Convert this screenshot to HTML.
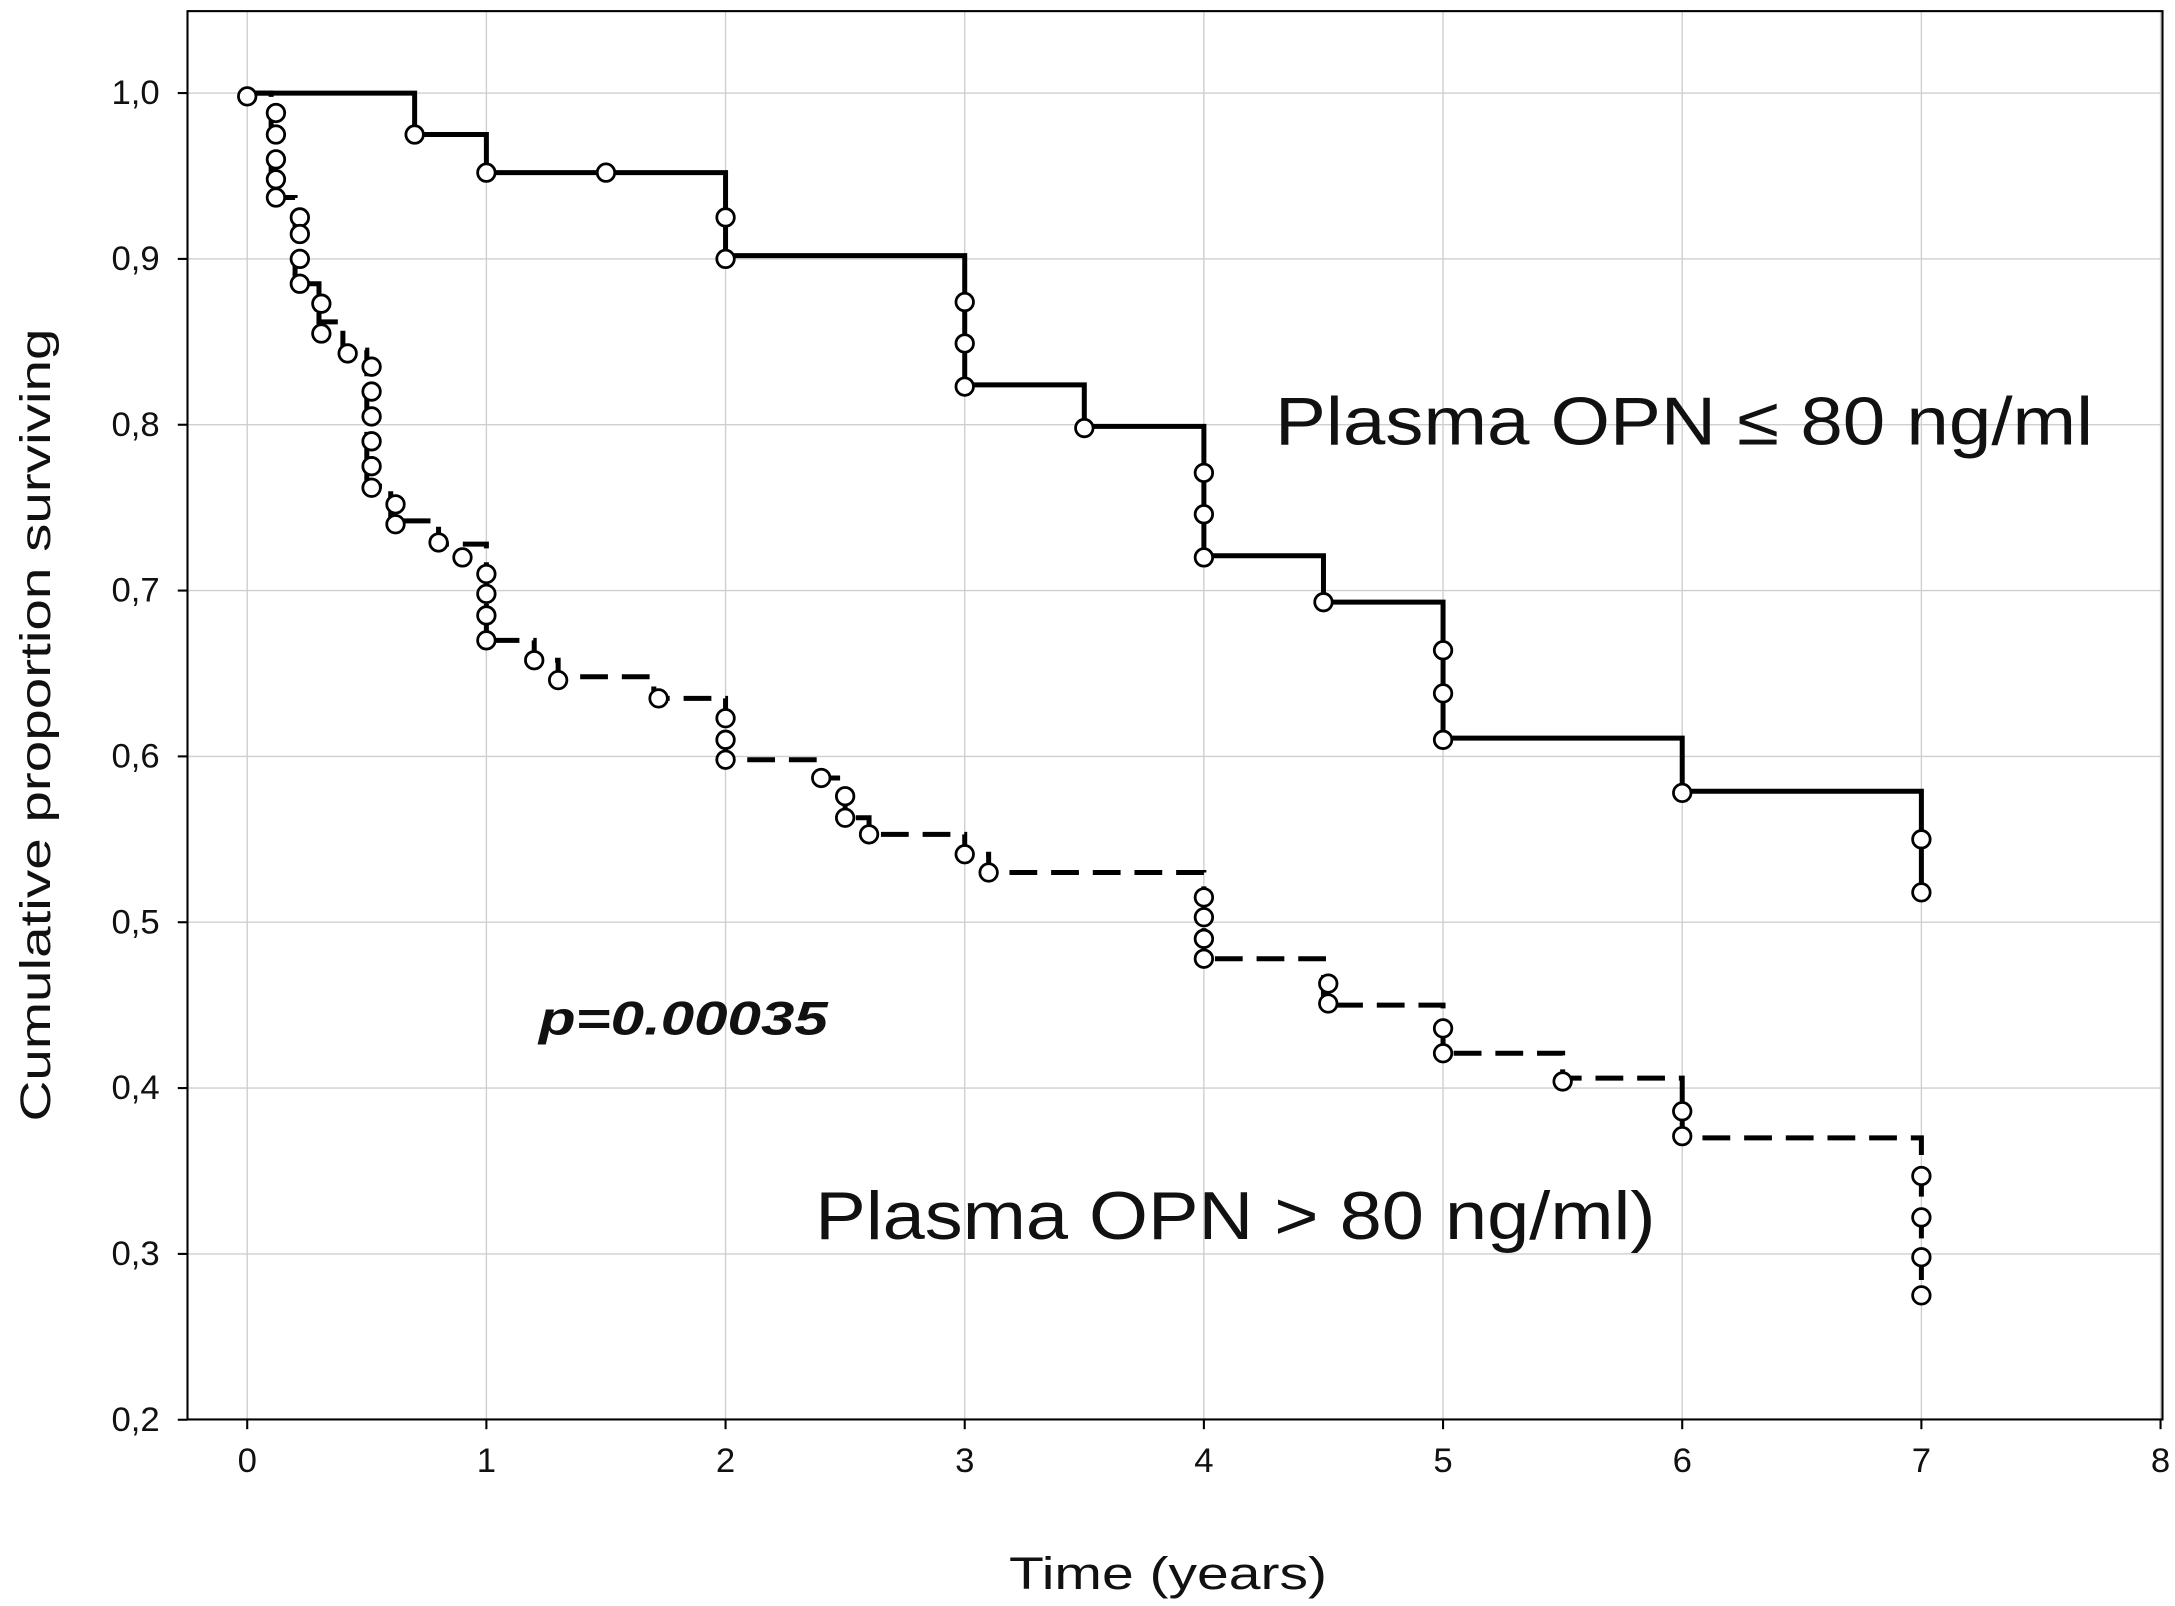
<!DOCTYPE html>
<html><head><meta charset="utf-8"><style>
html,body{margin:0;padding:0;background:#fff}
svg{display:block}
text{font-family:"Liberation Sans",Arial,sans-serif;fill:#111}
</style></head><body>
<svg id="chart" width="2175" height="1606" viewBox="0 0 1566 1156.3" xmlns="http://www.w3.org/2000/svg">
<g id="grid"></g>
<rect x="135" y="8" width="1422" height="1014" fill="none" stroke="#000" stroke-width="1.5"/>
<g id="ticks"></g>
<g id="series"></g>
<text transform="translate(36,522) rotate(-90)" text-anchor="middle" font-size="31" textLength="571" lengthAdjust="spacingAndGlyphs">Cumulative proportion surviving</text>
<text x="841" y="1144" text-anchor="middle" font-size="33" textLength="229" lengthAdjust="spacingAndGlyphs">Time (years)</text>
<text x="918" y="320" font-size="49" textLength="589" lengthAdjust="spacingAndGlyphs">Plasma OPN ≤ 80 ng/ml</text>
<text x="587" y="892" font-size="49" textLength="605" lengthAdjust="spacingAndGlyphs">Plasma OPN &gt; 80 ng/ml)</text>
<text x="388" y="745" font-size="34" font-weight="bold" font-style="italic" textLength="208" lengthAdjust="spacingAndGlyphs">p=0.00035</text>
</svg>
<script>
const xTicks=[0,1,2,3,4,5,6,7,8];
const yTicks=[0.2,0.3,0.4,0.5,0.6,0.7,0.8,0.9,1.0];
const yTickLabels=["0,2","0,3","0,4","0,5","0,6","0,7","0,8","0,9","1,0"];
const lowTimes=[0,0.7,1.0,2.0,3.0,3.5,4.0,4.5,5.0,6.0,7.0];
const lowValues=[1.0,0.975,0.952,0.902,0.824,0.799,0.721,0.693,0.611,0.579,0.518];
const lowCensT=[0.7,1.0,1.5,2,2,3,3,3,3.5,4,4,4,4.5,5,5,5,6,7,7];
const lowCensV=[0.975,0.952,0.952,0.925,0.90,0.874,0.849,0.823,0.798,0.771,0.746,0.72,0.693,0.664,0.638,0.61,0.578,0.55,0.518];
const highTimes=[0,0.1,0.2,0.3,0.4,0.5,0.6,0.8,1.0,1.2,1.3,1.7,2.0,2.4,2.5,2.6,3.0,3.1,4.0,4.5,5.0,5.5,6.0,7.0];
const highValues=[1.0,0.937,0.885,0.862,0.845,0.763,0.742,0.728,0.67,0.658,0.648,0.635,0.598,0.587,0.563,0.553,0.541,0.53,0.478,0.45,0.421,0.406,0.37,0.275];
const highCensT=[0,0.12,0.12,0.12,0.12,0.12,0.22,0.22,0.22,0.22,0.31,0.31,0.42,0.52,0.52,0.52,0.52,0.52,0.52,0.62,0.62,0.8,0.9,1,1,1,1,1.2,1.3,1.72,2,2,2,2.4,2.5,2.5,2.6,3,3.1,4,4,4,4,4.52,4.52,5,5,5.5,6,6,7,7,7,7];
const highCensV=[0.998,0.988,0.975,0.96,0.948,0.937,0.925,0.915,0.9,0.885,0.873,0.855,0.843,0.835,0.82,0.805,0.79,0.775,0.762,0.752,0.74,0.729,0.72,0.71,0.698,0.685,0.67,0.658,0.646,0.635,0.623,0.61,0.598,0.587,0.576,0.563,0.553,0.541,0.53,0.515,0.503,0.49,0.478,0.463,0.451,0.436,0.421,0.404,0.386,0.371,0.347,0.322,0.298,0.275];
const NS="http://www.w3.org/2000/svg";
const sx=t=>178+t*172.2;
const sy=v=>67+(1-v)*1194;
function mk(tag,attrs,parent){const e=document.createElementNS(NS,tag);for(const k in attrs)e.setAttribute(k,attrs[k]);parent.appendChild(e);return e;}
const grid=document.getElementById('grid'),ticks=document.getElementById('ticks'),series=document.getElementById('series');
xTicks.forEach(t=>{
  const g=mk('line',{x1:sx(t),x2:sx(t),y1:8,y2:1022,stroke:'#cfcfcf','stroke-width':1},grid);
  
  
  const tk=mk('line',{x1:sx(t),x2:sx(t),y1:1022,y2:1029,stroke:'#000','stroke-width':1.5},ticks);
  
  
  const lb=mk('text',{x:sx(t),y:1060,'text-anchor':'middle','font-size':25},ticks);
  lb.textContent=String(t);
  
  
});
yTicks.forEach((v,i)=>{
  const g=mk('line',{x1:135,x2:1557,y1:sy(v),y2:sy(v),stroke:'#cfcfcf','stroke-width':1},grid);
  
  
  const tk=mk('line',{x1:128,x2:135,y1:sy(v),y2:sy(v),stroke:'#000','stroke-width':1.5},ticks);
  
  
  const lb=mk('text',{x:115,y:sy(v)+8,'text-anchor':'end','font-size':25},ticks);
  lb.textContent=yTickLabels[i];
  
  
});
function stepPath(T,V){let d='M'+sx(T[0])+','+sy(V[0]);for(let i=1;i<T.length;i++){d+=' H'+sx(T[i])+' V'+sy(V[i]);}return d;}
const pl=mk('path',{d:stepPath(lowTimes,lowValues),fill:'none',stroke:'#000','stroke-width':3.6},series);


const ph=mk('path',{d:stepPath(highTimes,highValues),fill:'none',stroke:'#000','stroke-width':3.6,'stroke-dasharray':'20 10'},series);


lowCensT.forEach((t,i)=>{
  const c=mk('circle',{cx:sx(t),cy:sy(lowCensV[i]),r:6.3,fill:'#fff',stroke:'#000','stroke-width':2},series);
  
  
});
highCensT.forEach((t,i)=>{
  const c=mk('circle',{cx:sx(t),cy:sy(highCensV[i]),r:6.3,fill:'#fff',stroke:'#000','stroke-width':2},series);
  
  
});
</script>
</body></html>
